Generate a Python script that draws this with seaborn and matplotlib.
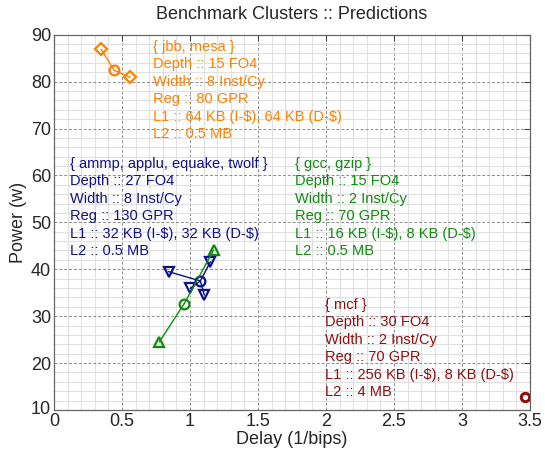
import matplotlib
matplotlib.use("Agg")
import matplotlib.pyplot as plt
import matplotlib.transforms as mtransforms
import seaborn as sns
import pandas as pd
from matplotlib.ticker import MultipleLocator

# ---- data ----
orange_center = (0.443, 82.4)
orange_x = [0.346, 0.560]
orange_y = [86.9, 80.9]

blue_center = (1.076, 37.5)
blue_x = [0.842, 1.002, 1.105, 1.150]
blue_y = [39.5, 35.9, 34.5, 41.6]

green_center = (0.958, 32.7)
green_x = [0.774, 1.174]
green_y = [24.5, 44.1]

red_center = (3.463, 12.8)

orange_text = ["{ jbb, mesa }", "Depth :: 15 FO4", "Width :: 8 Inst/Cy",
               "Reg :: 80 GPR", "L1 :: 64 KB (I-$), 64 KB (D-$)", "L2 :: 0.5 MB"]
blue_text = ["{ ammp, applu, equake, twolf }", "Depth :: 27 FO4", "Width :: 8 Inst/Cy",
             "Reg :: 130 GPR", "L1 :: 32 KB (I-$), 32 KB (D-$)", "L2 :: 0.5 MB"]
green_text = ["{ gcc, gzip }", "Depth :: 15 FO4", "Width :: 2 Inst/Cy",
              "Reg :: 70 GPR", "L1 :: 16 KB (I-$), 8 KB (D-$)", "L2 :: 0.5 MB"]
red_text = ["{ mcf }", "Depth :: 30 FO4", "Width :: 2 Inst/Cy",
            "Reg :: 70 GPR", "L1 :: 256 KB (I-$), 8 KB (D-$)", "L2 :: 4 MB"]

x_ticks = [0, 0.5, 1, 1.5, 2, 2.5, 3, 3.5]
x_labels = ["0", "0.5", "1", "1.5", "2", "2.5", "3", "3.5"]
y_ticks = [10, 20, 30, 40, 50, 60, 70, 80, 90]

ORANGE = "#FF8000"
BLUE = "#10108A"
GREEN = "#108A10"
RED = "#8F0F0F"

sns.set_style("white")
plt.rcParams["font.family"] = ["Liberation Sans", "DejaVu Sans"]

fig = plt.figure(figsize=(5.45, 4.54), dpi=100)
ax = fig.add_axes([54/545, 1-410/454, (530-54)/545, (410-34.7)/454])

def star(center, xs, ys, color, mk, ms):
    rows = []
    for i, (x, y) in enumerate(zip(xs, ys)):
        rows.append(dict(seg=i, x=center[0], y=center[1], o=0))
        rows.append(dict(seg=i, x=x, y=y, o=1))
    df = pd.DataFrame(rows)
    sns.lineplot(data=df, x="x", y="y", units="seg", estimator=None, sort=False,
                 color=color, lw=1.0, ax=ax)
    sns.lineplot(x=xs, y=ys, estimator=None, sort=False, ax=ax, linestyle="",
                 marker=mk, markersize=ms, markerfacecolor="none",
                 markeredgecolor=color, markeredgewidth=1.6, color=color)
    sns.lineplot(x=[center[0]], y=[center[1]], estimator=None, ax=ax, linestyle="",
                 marker="o", markersize=7, markerfacecolor="none",
                 markeredgecolor=color, markeredgewidth=1.6, color=color)

star(orange_center, orange_x, orange_y, ORANGE, "D", 6)
star(blue_center, blue_x, blue_y, BLUE, "v", 7.5)
star(green_center, green_x, green_y, GREEN, "^", 7.5)
sns.lineplot(x=[red_center[0]], y=[red_center[1]], estimator=None, ax=ax, linestyle="",
             marker="o", markersize=6, markerfacecolor="none",
             markeredgecolor=RED, markeredgewidth=2.2, color=RED)

ax.set_xlim(0, 3.5)
ax.set_ylim(10, 90)
ax.set_xticks(x_ticks)
ax.set_xticklabels(x_labels)
ax.set_yticks(y_ticks)
ax.xaxis.set_minor_locator(MultipleLocator(0.1))
ax.yaxis.set_minor_locator(MultipleLocator(2))
ax.grid(which="minor", color="#e0e0e0", lw=0.8, ls="-")
ax.grid(which="major", color="#8c8c8c", lw=0.7, ls=(0, (3, 2)))
ax.set_axisbelow(True)
ax.tick_params(which="major", direction="in", length=4, width=0.8, color="#444444",
               top=True, right=True, labelsize=13, pad=2)
ax.tick_params(which="minor", length=0)
for s in ax.spines.values():
    s.set_color("#666666")
    s.set_linewidth(0.9)

# nudge the bottom y label up a little so it does not collide with the x "0"
lbl10 = ax.get_yticklabels()[0]
lbl10.set_transform(lbl10.get_transform() +
                    mtransforms.ScaledTranslation(0, 3/100, fig.dpi_scale_trans))

ax.set_xlabel("Delay (1/bips)", fontsize=13, labelpad=1)
ax.set_ylabel("Power (w)", fontsize=13, labelpad=3)
ax.set_title("Benchmark Clusters :: Predictions", fontsize=13, pad=11)

tk = dict(fontsize=10.5, va="top", ha="left", linespacing=1.32, parse_math=False)
ax.text(0.727, 88.9, "\n".join(orange_text), color=ORANGE, **tk)
ax.text(0.118, 64.0, "\n".join(blue_text), color=BLUE, **tk)
ax.text(1.775, 64.0, "\n".join(green_text), color=GREEN, **tk)
ax.text(1.989, 33.9, "\n".join(red_text), color=RED, **tk)

fig.savefig("out.png", dpi=100)
